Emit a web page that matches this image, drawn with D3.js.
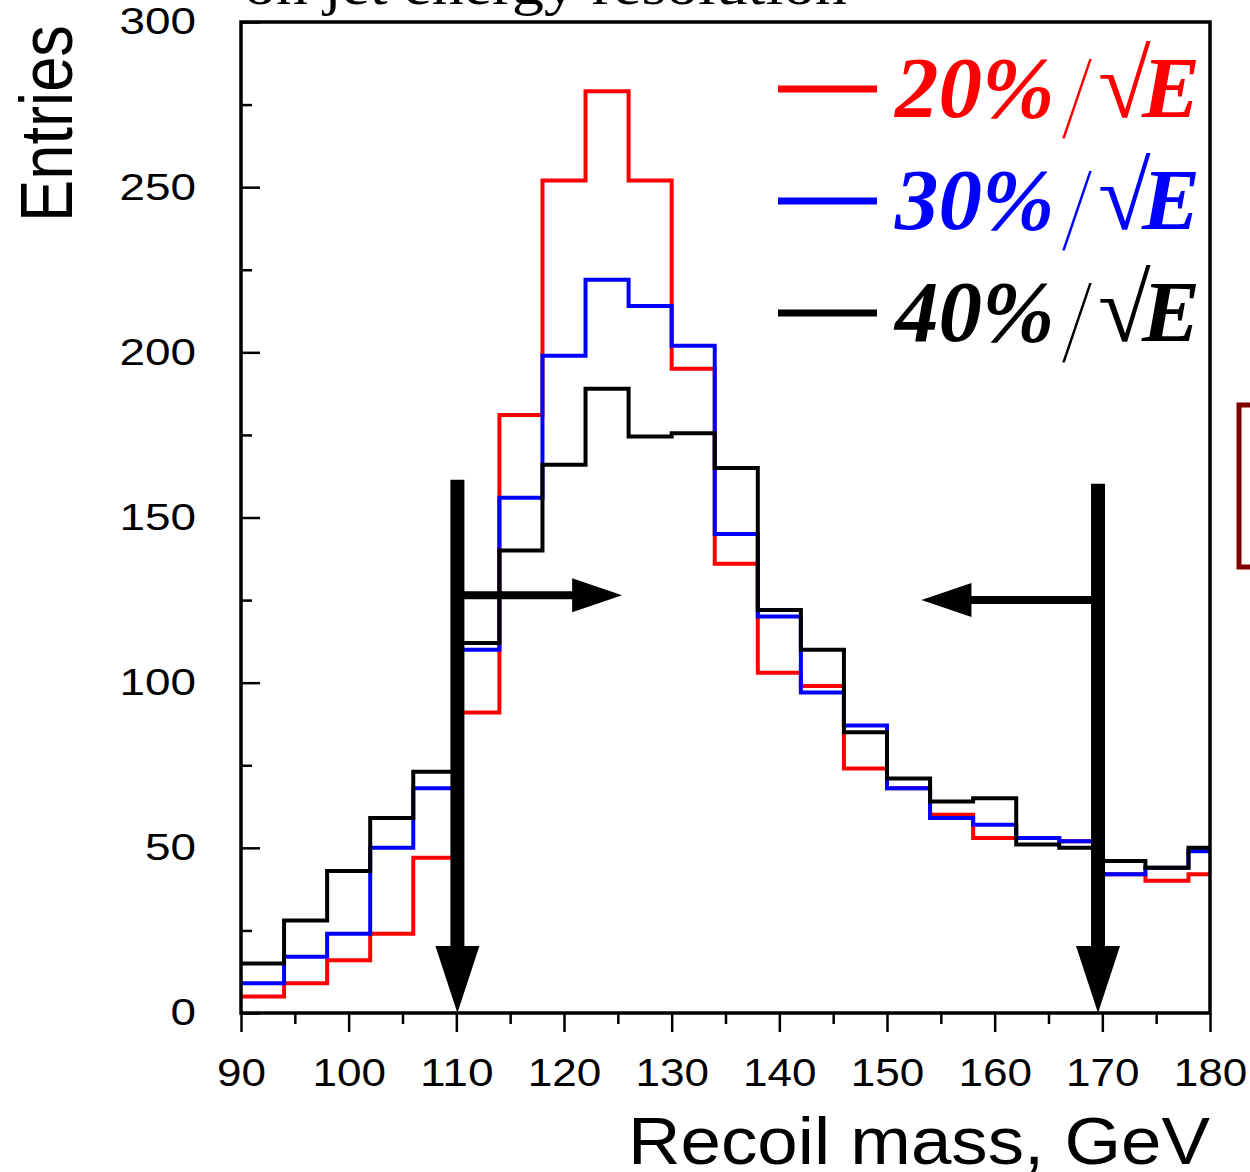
<!DOCTYPE html>
<html><head><meta charset="utf-8">
<script src="https://cdn.jsdelivr.net/npm/d3@7"></script>
<style>body{margin:0;background:#fff}svg{display:block}</style>
</head><body><svg id="c" width="1250" height="1172"></svg>
<script>
// ---- data ----
const binLowEdges = [90,94,98,102,106,110,114,118,122,126,130,134,138,142,146,150,154,158,162,166,170,174,178];
const binWidth = 4;
const res20 = [5,9,16,24,47,91,181,252,279,252,195,136,103,99,74,68,60,53,53,52,42,40,42];
const res30 = [9,17,24,50,68,110,156,199,222,214,202,145,120,97,87,68,59,57,53,52,42,44,49];
const res40 = [15,28,43,59,73,112,140,166,189,174.5,175.5,165,122,110,85,71,64,65,51,50,46,44,50];
const seriesNames = ["20%","30%","40%"];
const xTickValues = [90,100,110,120,130,140,150,160,170,180];
const xMinorTicks = [95,105,115,125,135,145,155,165,175];
const yTickValues = [0,50,100,150,200,250,300];
const yMinorTicks = [25,75,125,175,225,275];
const cutLow = 110.1, cutHigh = 169.6;
const titleText = "on jet energy resolution";

// ---- styles ----
const colors = ["#ff0000","#0000ff","#000000"];
const sans = "'Liberation Sans', Arial, Helvetica, sans-serif";
const serif = "'Liberation Serif', 'Times New Roman', Times, serif";

const svg = d3.select("#c");
const L = 241, R = 1210, T = 22, B = 1013;
const x = d3.scaleLinear().domain([90,180]).range([L,R]);
const y = d3.scaleLinear().domain([0,300]).range([B,T]);

svg.append("rect").attr("width",1250).attr("height",1172).attr("fill","#fff");

// cut-off title
svg.append("text").attr("x",244).attr("y",4)
  .attr("font-family",serif).attr("font-size",58)
  .attr("textLength",603).attr("lengthAdjust","spacingAndGlyphs")
  .text(titleText);

// histograms
const line = d3.line().x(d=>x(d[0])).y(d=>y(d[1])).curve(d3.curveStepAfter);
function stepPoints(vals){
  const pts = vals.map((v,i)=>[binLowEdges[i], v]);
  const end = Math.min(binLowEdges[binLowEdges.length-1]+binWidth, x.domain()[1]);
  pts.push([end, vals[vals.length-1]]);
  return pts;
}
[res20,res30,res40].forEach((vals,i)=>{
  svg.append("path").attr("d", line(stepPoints(vals)))
    .attr("fill","none").attr("stroke",colors[i]).attr("stroke-width",4)
    .attr("stroke-linejoin","miter");
});

// axes
const gx = svg.append("g").attr("transform",`translate(0,${B})`);
gx.call(d3.axisBottom(x).tickValues(xTickValues).tickSize(19).tickPadding(27));
gx.append("g").call(d3.axisBottom(x).tickValues(xMinorTicks).tickSize(11).tickFormat(""));
gx.selectAll(".domain").remove();
gx.selectAll("line").attr("stroke","#000").attr("stroke-width",2.5);
gx.selectAll("text").attr("font-family",sans).attr("font-size",38).attr("fill","#000")
  .attr("textLength",function(d){return String(d).length*24.5;})
  .attr("lengthAdjust","spacingAndGlyphs");

const gy = svg.append("g").attr("transform",`translate(${L},0)`);
gy.call(d3.axisLeft(y).tickValues(yTickValues).tickSize(-19).tickPadding(45));
gy.append("g").call(d3.axisLeft(y).tickValues(yMinorTicks).tickSize(-11).tickFormat(""));
gy.selectAll(".domain").remove();
gy.selectAll("line").attr("stroke","#000").attr("stroke-width",2.5);
gy.selectAll("text").attr("font-family",sans).attr("font-size",37).attr("fill","#000")
  .attr("textLength",function(d){return String(d).length*25.5;})
  .attr("lengthAdjust","spacingAndGlyphs");

// frame
svg.append("rect").attr("x",L).attr("y",T).attr("width",R-L).attr("height",B-T)
  .attr("fill","none").attr("stroke","#000").attr("stroke-width",3.5);

// axis titles
svg.append("text").attr("x",R).attr("y",1164).attr("text-anchor","end")
  .attr("font-family",sans).attr("font-size",66)
  .attr("textLength",582).attr("lengthAdjust","spacingAndGlyphs")
  .text("Recoil mass, GeV");
svg.append("text").attr("transform","translate(72,222) rotate(-90)")
  .attr("font-family",sans).attr("font-size",74)
  .attr("textLength",197).attr("lengthAdjust","spacingAndGlyphs")
  .text("Entries");

// legend
const legBase = [117,229,341];
seriesNames.forEach((name,i)=>{
  const ly = legBase[i]-28;
  svg.append("line").attr("x1",778).attr("x2",877).attr("y1",ly).attr("y2",ly)
    .attr("stroke",colors[i]).attr("stroke-width",7);
  const t = svg.append("text").attr("y",legBase[i]).attr("fill",colors[i])
    .attr("font-family",serif);
  t.append("tspan").attr("x",895).attr("font-size",87).attr("font-weight","bold")
    .attr("font-style","italic").text(name);
  t.append("tspan").attr("x",1060).attr("y",legBase[i]+22).attr("font-size",122)
    .attr("font-weight","normal").attr("font-style","normal")
    .attr("stroke","#fff").attr("stroke-width",3).text("/");
  t.append("tspan").attr("x",1098).attr("y",legBase[i]).attr("font-size",96)
    .attr("font-weight","normal").attr("font-style","normal").text("\u221A");
  t.append("tspan").attr("x",1142).attr("font-size",87).attr("font-weight","bold")
    .attr("font-style","italic").text("E");
});

// arrows
function vArrow(xv, topVal){
  const cx = x(xv), top = y(topVal), tip = B, hw = 22, hl = 67, sw = 7;
  return `M${cx-sw},${top} L${cx+sw},${top} L${cx+sw},${tip-hl} L${cx+hw},${tip-hl} L${cx},${tip} L${cx-hw},${tip-hl} L${cx-sw},${tip-hl} Z`;
}
function hArrow(x0px, tipVal, yv){
  const tip = x(tipVal), cy = y(yv), hh = 17, hl = 50, sw = 4;
  const dir = tip > x0px ? 1 : -1;
  const hb = tip - dir*hl;
  return `M${x0px},${cy-sw} L${hb},${cy-sw} L${hb},${cy-hh} L${tip},${cy} L${hb},${cy+hh} L${hb},${cy+sw} L${x0px},${cy+sw} Z`;
}
svg.append("path").attr("d",vArrow(cutLow,161.4)).attr("fill","#000");
svg.append("path").attr("d",vArrow(cutHigh,160.2)).attr("fill","#000");
svg.append("path").attr("d",hArrow(x(cutLow),125.4,126.5)).attr("fill","#000");
svg.append("path").attr("d",hArrow(x(cutHigh),153.2,125)).attr("fill","#000");

// dark red bracket at right edge
svg.append("path").attr("d","M1252,405 L1239,405 L1239,567 L1252,567")
  .attr("fill","none").attr("stroke","#800000").attr("stroke-width",5);
</script></body></html>
